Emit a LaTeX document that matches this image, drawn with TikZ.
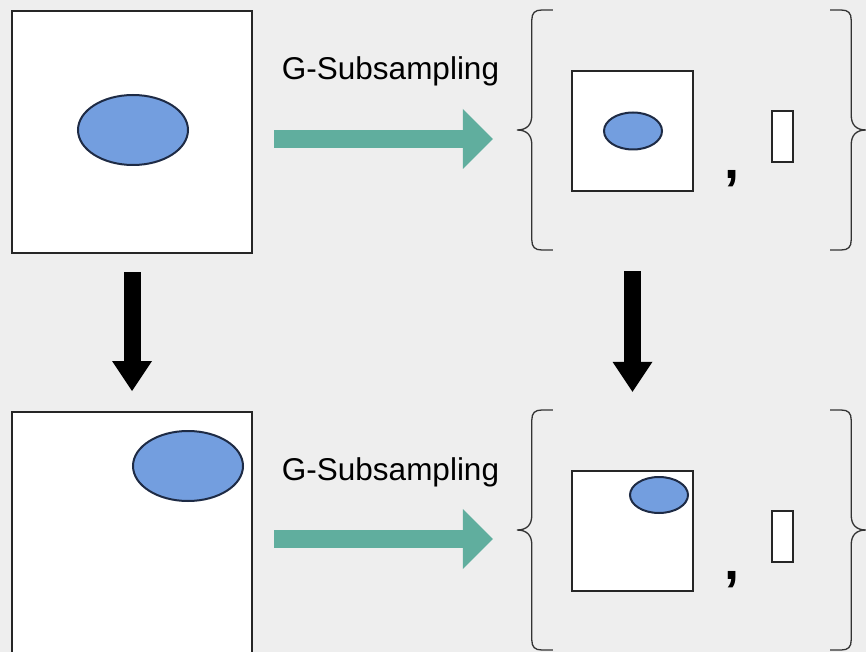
\documentclass[tikz,border=0pt]{standalone}
\usepackage{fontspec}
\setmainfont{Liberation Sans}
\usetikzlibrary{arrows.meta,positioning,calc,shapes.geometric}
\definecolor{ssbg}{HTML}{EEEEEE}
\definecolor{ssteal}{HTML}{60AE9E}
\definecolor{ssblue}{HTML}{739EDF}
\definecolor{ssline}{HTML}{1E2B45}
\newcommand{\bracepath}{(36,-120) -- (25,-120) .. controls (18,-120) and (15,-117) .. (15,-110)
  -- (15,-15) .. controls (15,-5) and (10,0) .. (0,0) .. controls (10,0) and (15,5) .. (15,15)
  -- (15,110) .. controls (15,117) and (18,120) .. (25,120) -- (36,120)}

\begin{document}
\begin{tikzpicture}[
  x=1pt, y=-1pt,
  frame/.style={rectangle, draw=black!85, line width=2pt, fill=white, inner sep=0pt},
  blob/.style={ellipse, draw=ssline, line width=2pt, fill=ssblue, inner sep=0pt},
  slot/.style={rectangle, draw=black!85, line width=1.6pt, fill=white, inner sep=0pt,
               minimum width=21pt, minimum height=51pt},
  setbox/.style={rectangle, inner sep=0pt, minimum width=349pt, minimum height=240pt},
  lbl/.style={font=\fontsize{31.5pt}{36pt}\selectfont, inner sep=0pt, anchor=base},
  sepmark/.style={font=\fontsize{54pt}{60pt}\selectfont\bfseries, inner sep=0pt, anchor=base},
  brace/.style={draw=black!80, line width=1.3pt},
  flow/.style={draw=ssteal, line width=18pt, -{Triangle[width=60pt,length=30pt,line width=0pt]}},
  down/.style={draw=black, line width=17pt, -{Triangle[width=40pt,length=30pt,line width=0pt]}}
]
\path[fill=ssbg, use as bounding box] (0,0) rectangle (866,652);
\clip (0,0) rectangle (866,652);

% input images
\node[frame, minimum width=240pt, minimum height=242pt] (img1) at (132,132) {};
\node[blob, minimum width=110pt, minimum height=70pt] (obj1) at (133,130) {};
\node[frame, minimum width=240pt, minimum height=242pt] (img2) at (132,533) {};
\node[blob, minimum width=110pt, minimum height=70pt] (obj2) at (188,466) {};

% subsampled sets
\node[setbox] (set1) at (691.5,130) {};
\node[frame, minimum width=121pt, minimum height=120pt] (sub1) at (632.5,131) {};
\node[blob, minimum width=58pt, minimum height=37pt] (obj3) at (633,131) {};
\node[sepmark] (comma1) at (731.5,179) {,};
\node[slot] (pad1) at (782.5,136.5) {};

\node[setbox] (set2) at (691.5,530) {};
\node[frame, minimum width=121pt, minimum height=120pt] (sub2) at (632.5,531) {};
\node[blob, minimum width=58pt, minimum height=36pt] (obj4) at (659,495) {};
\node[sepmark] (comma2) at (731.5,579) {,};
\node[slot] (pad2) at (782.5,536.5) {};

\foreach \s in {set1,set2} {
  \draw[brace, shift={(\s.west)}] \bracepath;
  \draw[brace, shift={(\s.east)}, xscale=-1] \bracepath;
}

% G-Subsampling steps
\node[lbl] (lab1) at (390.5,80) {G-Subsampling};
\node[lbl] (lab2) at (390.5,480) {G-Subsampling};
\draw[flow, shorten <=21pt, shorten >=24pt] ([yshift=-7pt]img1.east) -- ([yshift=-9pt]set1.west);
\draw[flow, shorten <=21pt, shorten >=24pt] ([yshift=-6pt]img2.east) -- ([yshift=-9pt]set2.west);

% shift
\draw[down, shorten <=18pt, shorten >=20pt] (img1.south) -- (img2.north);
\draw[down, shorten <=21pt, shorten >=18pt] (set1.south -| sub1.south) -- (set2.north -| sub2.north);
\end{tikzpicture}
\end{document}
